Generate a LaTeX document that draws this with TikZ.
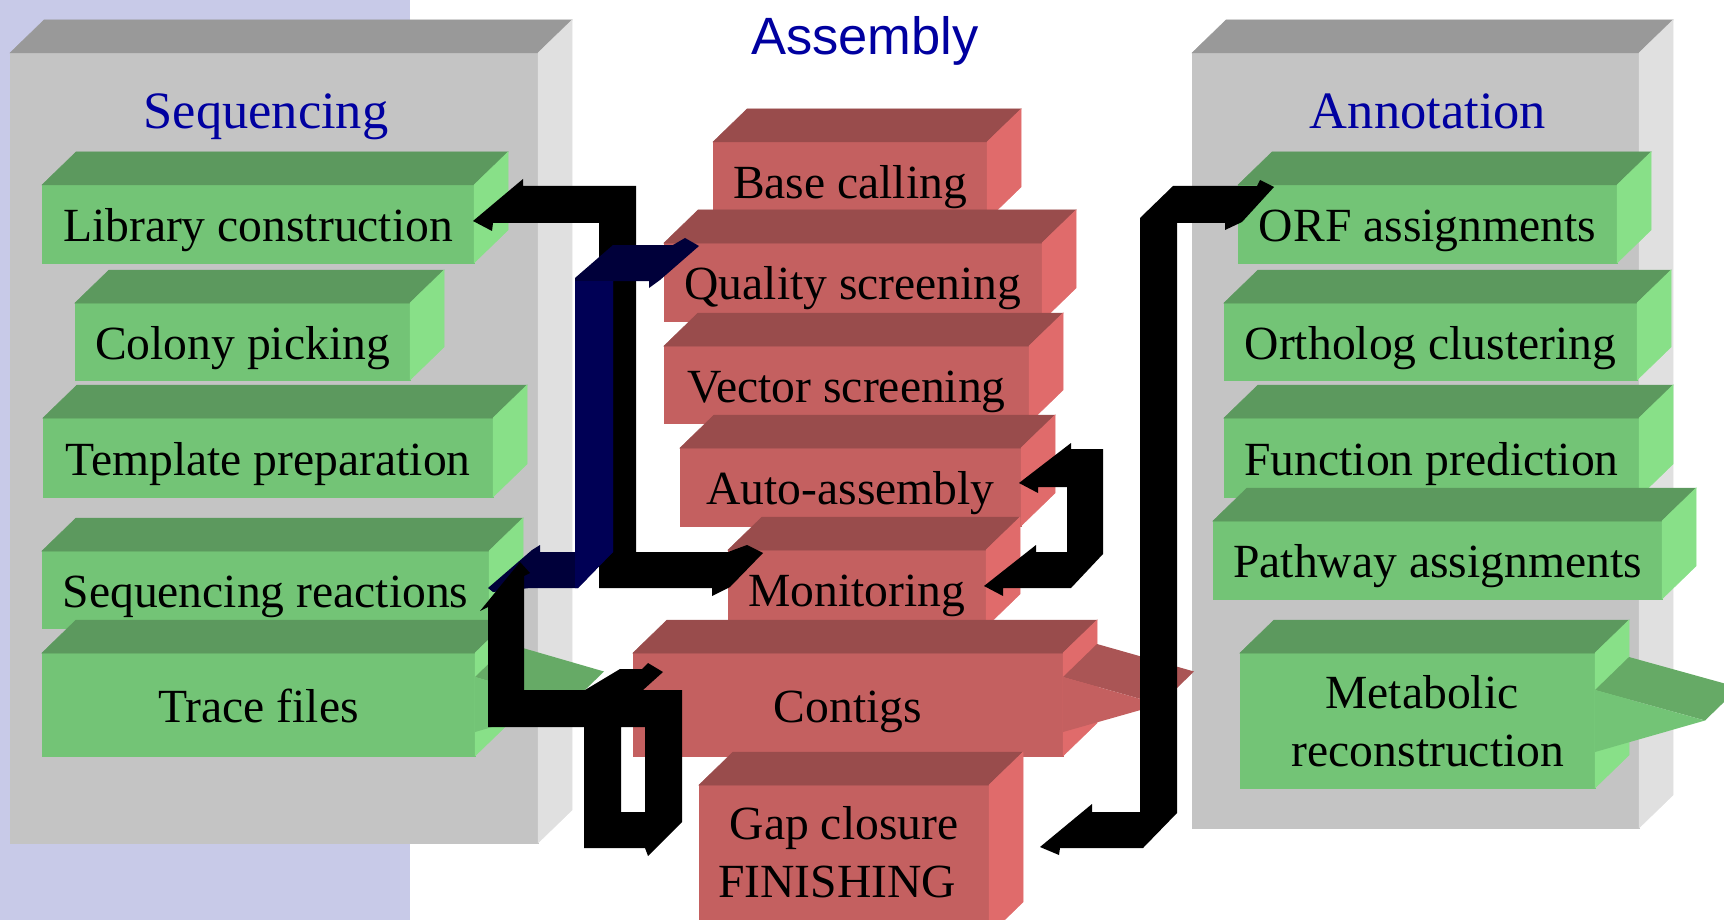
\documentclass[tikz,border=0pt]{standalone}
\usepackage{fontspec}
\setmainfont{Liberation Serif}
\newfontfamily\headsans{Liberation Sans}
\usetikzlibrary{calc}
\definecolor{lav}{RGB}{200,202,232}
\definecolor{gfront}{RGB}{115,196,118}
\definecolor{gtop}{RGB}{92,153,94}
\definecolor{gside}{RGB}{136,224,136}
\definecolor{gwedge}{RGB}{102,170,102}
\definecolor{rfront}{RGB}{196,96,96}
\definecolor{rtop}{RGB}{153,76,76}
\definecolor{rside}{RGB}{224,107,107}
\definecolor{rwedge}{RGB}{170,85,85}
\definecolor{pfront}{RGB}{196,196,196}
\definecolor{ptop}{RGB}{153,153,153}
\definecolor{pside}{RGB}{224,224,224}
\definecolor{navyfront}{RGB}{0,0,85}
\definecolor{navydark}{RGB}{0,0,58}
\definecolor{headblue}{RGB}{0,0,160}
\tikzset{
  face/.style={rectangle, inner sep=0pt, outer sep=0pt},
  gbox/.style={face, fill=gfront, draw=gfront, line width=0.5pt},
  rbox/.style={face, fill=rfront, draw=rfront, line width=0.5pt},
  pbox/.style={face, fill=pfront, draw=pfront, line width=0.5pt},
  lbl/.style={text height=35pt, text depth=0pt, font=\fontsize{47.6}{57}\selectfont},
  linetext/.style={anchor=base, inner sep=0pt, font=\fontsize{47.6}{57}\selectfont},
  heading/.style={anchor=base, inner sep=0pt, text=headblue, font=\fontsize{52.5}{60}\selectfont},
  band/.style={fill=black},
}
% top and side faces of a box node
\newcommand\facesTD[3]{%
  \fill[#2, draw=#2, line width=0.5pt] (#1.north west) -- ++(34,-33) -- ($(#1.north east)+(34,-33)$) -- (#1.north east) -- cycle;
  \fill[#3, draw=#3, line width=0.5pt] (#1.north east) -- ++(34,-33) -- ($(#1.south east)+(34,-33)$) -- (#1.south east) -- cycle;
}
% arrow-like wedge on the right side of a box node: #1 node, #2 top offset, #3 bottom offset, #4 length, #5 facet colour, #6 front colour
\newcommand\wedgeTD[6]{%
  \coordinate (#1-wt) at ($(#1.north east)+(0,#2)$);
  \coordinate (#1-wb) at ($(#1.south east)+(0,-#3)$);
  \coordinate (#1-tip) at ($(#1.east)+(#4,0)$);
  \fill[#5] (#1-wt) -- ++(34,-33) -- ($(#1-tip)+(34,-33)$) -- (#1-tip) -- cycle;
  \fill[#6] (#1-wt) -- (#1-tip) -- (#1-wb) -- cycle;
}
\begin{document}
\begin{tikzpicture}[x=1pt,y=-1pt]
\useasboundingbox (0,0) rectangle (1724,920);
\clip (0,0) rectangle (1724,920);
\fill[lav] (0,0) rectangle (410,920);

% panels
\node[pbox, minimum width=528pt, minimum height=790pt] (panelL) at (274,448) {};
\facesTD{panelL}{ptop}{pside}
\node[pbox, minimum width=447pt, minimum height=775pt] (panelR) at (1415.5,440.5) {};
\facesTD{panelR}{ptop}{pside}

\node[heading] (hseq) at (266,129) {Sequencing};
\node[heading] (hann) at (1428,129) {Annotation};
\node[heading, font=\headsans\fontsize{52.5}{60}\selectfont] (hass) at (865,55) {Assembly};

% sequencing boxes
\node[gbox, lbl, minimum width=432pt, minimum height=78pt] (lib) at (258,224) {Library construction};
\facesTD{lib}{gtop}{gside}
\node[gbox, lbl, minimum width=335pt, minimum height=77pt] (colony) at (242.5,341.5) {Colony picking};
\facesTD{colony}{gtop}{gside}
\node[gbox, lbl, minimum width=450pt, minimum height=79pt] (templ) at (268,457.5) {Template preparation};
\facesTD{templ}{gtop}{gside}
\node[gbox, lbl, minimum width=447pt, minimum height=77pt] (seqr) at (265.5,589.5) {Sequencing reactions};
\facesTD{seqr}{gtop}{gside}
\node[gbox, lbl, minimum width=433pt, minimum height=103pt] (trace) at (258.5,704.5) {Trace files};
\facesTD{trace}{gtop}{gside}
\wedgeTD{trace}{24}{24}{95}{gwedge}{gfront}

% annotation boxes
\node[gbox, lbl, minimum width=379pt, minimum height=78pt] (orf) at (1427.5,224) {ORF assignments};
\facesTD{orf}{gtop}{gside}
\node[gbox, lbl, minimum width=413pt, minimum height=77pt] (ortho) at (1430.5,341.5) {Ortholog clustering};
\facesTD{ortho}{gtop}{gside}
\node[gbox, lbl, minimum width=415pt, minimum height=79pt] (func) at (1431.5,457.5) {Function prediction};
\facesTD{func}{gtop}{gside}
\node[gbox, lbl, minimum width=449pt, minimum height=78pt] (path) at (1437.5,560) {Pathway assignments};
\facesTD{path}{gtop}{gside}
\node[gbox, minimum width=355pt, minimum height=135pt] (meta) at (1417.5,720.5) {};
\facesTD{meta}{gtop}{gside}
\wedgeTD{meta}{37}{36}{110}{gwedge}{gfront}
\node[linetext] (metaA) at (1422,708) {Metabolic};
\node[linetext] (metaB) at (1428,766) {reconstruction};

% assembly boxes
\node[rbox, lbl, minimum width=274pt, minimum height=78pt] (base) at (850,181) {Base calling};
\facesTD{base}{rtop}{rside}
\node[rbox, lbl, minimum width=378pt, minimum height=78pt] (qual) at (853,282) {Quality screening};
\facesTD{qual}{rtop}{rside}
\node[rbox, lbl, minimum width=365pt, minimum height=77pt] (vect) at (846.5,384.5) {Vector screening};
\facesTD{vect}{rtop}{rside}
\node[rbox, lbl, minimum width=341pt, minimum height=78pt] (auto) at (850.5,487) {Auto-assembly};
\facesTD{auto}{rtop}{rside}
\node[rbox, lbl, minimum width=258pt, minimum height=77pt] (mon) at (857,588.5) {Monitoring};
\facesTD{mon}{rtop}{rside}
\node[rbox, lbl, minimum width=430pt, minimum height=103pt] (contigs) at (848,704.5) {Contigs};
\facesTD{contigs}{rtop}{rside}
\wedgeTD{contigs}{24}{24}{97}{rwedge}{rfront}
\node[rbox, minimum width=290pt, minimum height=150pt] (gap) at (844,860) {};
\facesTD{gap}{rtop}{rside}
\node[linetext] (gapA) at (844,839) {Gap closure};
\node[linetext] (gapB) at (837,897) {FINISHING};

% arrow A: Monitoring <-> Library construction
\fill[band] (473,221) -- (523,179) -- (523,186) -- (636,186) -- (636,552) -- (728,552)
  -- (747,545) -- (763,553) -- (730,587) -- (712,596) -- (712,588) -- (599,588)
  -- (599,223) -- (493,223) -- (492,231) -- cycle;

% arrow B (navy): Sequencing reactions <-> Quality screening
\fill[navydark] (575,278) -- (613,245) -- (673,245) -- (685,238) -- (699,246) -- (660,280)
  -- (649,288) -- (649,281) -- (613,281) -- (613,552) -- (578,588) -- (530,588)
  -- (493,592) -- (488,588) -- (532,550) -- (540,545) -- (540,552) -- (575,552) -- cycle;
\fill[navyfront] (575,281) -- (613,281) -- (613,552) -- (578,588) -- (575,588) -- cycle;

% arrow E: Contigs / loop / Sequencing reactions
\fill[band, even odd rule] (480,611) -- (520,562) -- (530,573) -- (524,576) -- (524,690)
  -- (585,690) -- (620,669) -- (642,669) -- (648,663) -- (663,672) -- (643,690)
  -- (682,690) -- (682,822) -- (648,856) -- (645,848) -- (584,848) -- (584,727)
  -- (488,727) -- (488,607) -- cycle
  (621,727) -- (645,727) -- (645,812) -- (621,812) -- cycle;

% arrow C: Monitoring <-> Auto-assembly
\fill[band] (1019,483) -- (1071,443) -- (1071,449) -- (1103,449) -- (1103,554) -- (1071,588)
  -- (1003,588) -- (1003,596) -- (984,586) -- (1036,545) -- (1036,552) -- (1067,552)
  -- (1067,487) -- (1038,487) -- (1038,493) -- cycle;

% arrow D: Gap closure <-> ORF assignments
\fill[band] (1140,218) -- (1173,186) -- (1257,186) -- (1260,180) -- (1274,187) -- (1242,222)
  -- (1225,230) -- (1225,223) -- (1177,223) -- (1177,813) -- (1143,848) -- (1060,848)
  -- (1059,855) -- (1040,847) -- (1092,804) -- (1092,812) -- (1140,812) -- cycle;
\end{tikzpicture}
\end{document}
